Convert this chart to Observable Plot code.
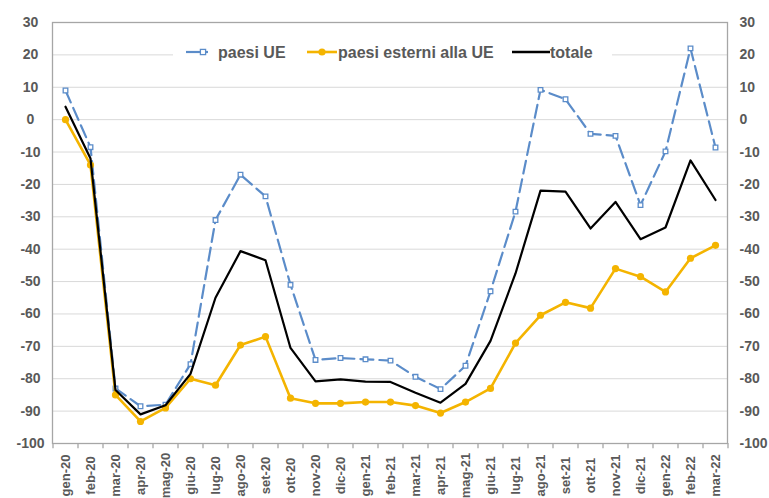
<!DOCTYPE html>
<html>
<head>
<meta charset="utf-8">
<script src="https://cdn.jsdelivr.net/npm/d3@7"></script>
<script src="https://cdn.jsdelivr.net/npm/@observablehq/plot@0.6"></script>
<style>
  html, body { margin: 0; padding: 0; background: #fff; }
  #chart { position: relative; width: 769px; height: 498px; overflow: hidden; }
</style>
</head>
<body>
<div id="chart"></div>
<script>
const months = ["gen-20","feb-20","mar-20","apr-20","mag-20","giu-20","lug-20","ago-20","set-20","ott-20","nov-20","dic-20",
  "gen-21","feb-21","mar-21","apr-21","mag-21","giu-21","lug-21","ago-21","set-21","ott-21","nov-21","dic-21",
  "gen-22","feb-22","mar-22"];
const paesiUE = [9, -8.5, -83, -88.5, -88, -75.5, -31, -17, -23.7, -51, -74.2, -73.6, -74, -74.4, -79.4, -83.2, -76, -53, -28.4, 9.2, 6.3, -4.4, -5, -26.4, -9.8, 22, -8.6];
const paesiEsterni = [0, -14, -85, -93.2, -89, -80, -82, -69.6, -67, -86, -87.6, -87.6, -87.2, -87.2, -88.3, -90.6, -87.2, -83, -69, -60.4, -56.4, -58.2, -46, -48.5, -53.2, -42.8, -38.8];
const totale = [4, -12, -83.5, -91, -88.2, -78.5, -55, -40.6, -43.4, -70.5, -80.8, -80.2, -80.9, -81, -84.3, -87.4, -81.6, -68.3, -47.5, -21.9, -22.2, -33.6, -25.4, -36.9, -33.3, -12.6, -24.8];
const seriesNames = ["paesi UE", "paesi esterni alla UE", "totale"];
const yTicks = d3.range(-100, 31, 10);

const blue = "#5b8cc9", gold = "#f4b400", black = "#000000";
const toRows = vals => months.map((m, i) => ({month: m, value: vals[i]}));
const ue = toRows(paesiUE), est = toRows(paesiEsterni), tot = toRows(totale);

const textColor = "#595959";
const chart = Plot.plot({
  width: 769, height: 498,
  marginLeft: 52, marginRight: 42, marginTop: 22, marginBottom: 55,
  x: {type: "point", domain: months, padding: 0.5},
  y: {domain: [-100, 30]},
  style: {fontFamily: "'Liberation Sans', Arial, sans-serif", fontSize: "14px", fontWeight: "bold", color: textColor, background: "#fff"},
  marks: [
    Plot.ruleY(yTicks.filter(d => d > -100 && d < 30), {stroke: "#d9d9d9", strokeWidth: 1}),
    Plot.frame({stroke: "#a6a6a6", strokeWidth: 1.3}),
    Plot.axisY({anchor: "left", ticks: yTicks, tickSize: 0, tickPadding: 22, textAnchor: "middle", tickFormat: d => String(d), label: null, fill: textColor}),
    Plot.axisY({anchor: "right", ticks: yTicks, tickSize: 0, tickPadding: 12, textAnchor: "start", tickFormat: d => String(d), label: null, fill: textColor}),
    Plot.axisX({tickRotate: -90, tickSize: 0, tickPadding: 32, textAnchor: "middle", label: null, fill: textColor, fontSize: 13}),
    Plot.ruleX(months, {x: d => d, y1: -100, y2: -101.6, dx: -12.5, stroke: "#a6a6a6", strokeWidth: 1.3}),
    Plot.ruleX([months[months.length - 1]], {x: d => d, y1: -100, y2: -101.6, dx: 12.5, stroke: "#a6a6a6", strokeWidth: 1.3}),
    Plot.line(ue, {x: "month", y: "value", stroke: blue, strokeWidth: 2.2, strokeDasharray: "13,6"}),
    Plot.dot(ue, {x: "month", y: "value", symbol: "square", r: 2.6, stroke: blue, fill: "#fff", strokeWidth: 1.3}),
    Plot.line(est, {x: "month", y: "value", stroke: gold, strokeWidth: 2.6}),
    Plot.dot(est, {x: "month", y: "value", r: 3.6, fill: gold}),
    Plot.line(tot, {x: "month", y: "value", stroke: black, strokeWidth: 2.2})
  ]
});
document.getElementById("chart").appendChild(chart);

// Legend inside the plot area
const svg = d3.select(chart);
const lg = svg.append("g")
  .attr("font-family", "'Liberation Sans', Arial, sans-serif")
  .attr("font-weight", "bold").attr("font-size", "16px")
  .attr("fill", textColor).attr("text-anchor", "start");
lg.append("rect").attr("x", 173).attr("y", 42).attr("width", 439).attr("height", 22).attr("fill", "#fff");
const ly = 52;
// paesi UE
lg.append("line").attr("x1", 186).attr("x2", 208).attr("y1", ly).attr("y2", ly).attr("stroke", blue).attr("stroke-width", 2.2);
lg.append("rect").attr("x", 200.4).attr("y", ly - 2.6).attr("width", 5.2).attr("height", 5.2).attr("fill", "#fff").attr("stroke", blue).attr("stroke-width", 1.3);
lg.append("text").attr("x", 218).attr("y", ly + 5.5).text(seriesNames[0]);
// paesi esterni
lg.append("line").attr("x1", 307).attr("x2", 337).attr("y1", ly).attr("y2", ly).attr("stroke", gold).attr("stroke-width", 2.6);
lg.append("circle").attr("cx", 322).attr("cy", ly).attr("r", 3.6).attr("fill", gold);
lg.append("text").attr("x", 338).attr("y", ly + 5.5).text(seriesNames[1]);
// totale
lg.append("line").attr("x1", 512).attr("x2", 550).attr("y1", ly).attr("y2", ly).attr("stroke", black).attr("stroke-width", 2.5);
lg.append("text").attr("x", 550).attr("y", ly + 5.5).text(seriesNames[2]);
</script>
</body>
</html>
